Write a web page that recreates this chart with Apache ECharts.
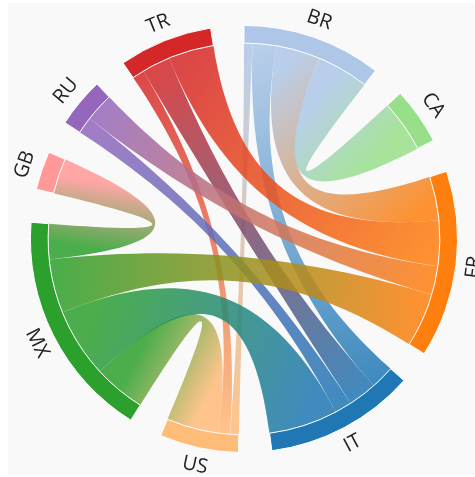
<!DOCTYPE html>
<html>
<head>
<meta charset="utf-8">
<script src="https://cdn.jsdelivr.net/npm/echarts@6/dist/echarts.min.js"></script>
<style>
html, body { margin: 0; padding: 0; overflow: hidden; background: #fff; }
#main { position: absolute; left: 8px; top: 3px; width: 472px; height: 472px; }
</style>
</head>
<body>
<div id="main"></div>
<script>
// countries around the circle, clockwise from the top
var countries = ['BR', 'CA', 'FR', 'IT', 'US', 'MX', 'GB', 'RU', 'TR'];
var countryColors = ['#aec7e8', '#98df8a', '#ff7f0e', '#1f77b4', '#ffbb78', '#2ca02c', '#ff9896', '#9467bd', '#d62728'];

// flows: source, target, value
var linkSource = ['BR', 'BR', 'BR', 'BR', 'TR', 'TR', 'TR', 'RU', 'RU', 'MX', 'MX', 'MX', 'MX'];
var linkTarget = ['US', 'IT', 'FR', 'CA', 'US', 'IT', 'FR', 'IT', 'FR', 'US', 'IT', 'FR', 'GB'];
var linkValue  = [5, 14, 26, 31, 7, 17, 27, 10, 17, 31, 41, 32, 21];

var padAngle = 9;
var innerR = 0.83, outerR = 0.905;

var myChart = echarts.init(document.getElementById('main'));

var nodes = countries.map(function (name, i) {
    return { name: name, itemStyle: { color: countryColors[i] } };
});
var links = linkSource.map(function (s, i) {
    return { source: s, target: linkTarget[i], value: linkValue[i] };
});

// chord labels can't turn, so put tangential labels on with graphic text
var totals = countries.map(function () { return 0; });
var sum = 0;
linkValue.forEach(function (v, i) {
    totals[countries.indexOf(linkSource[i])] += v;
    totals[countries.indexOf(linkTarget[i])] += v;
    sum += 2 * v;
});
var unit = (360 - padAngle * countries.length) / sum;
var cx = myChart.getWidth() / 2, cy = myChart.getHeight() / 2;
var labelR = Math.min(cx, cy) * outerR + 18;
var acc = 0;
var labels = countries.map(function (name, i) {
    var span = totals[i] * unit;
    var mid = acc + span / 2;   // degrees clockwise from top
    acc += span + padAngle;
    var rot;
    if (mid <= 90) rot = -mid;
    else if (mid < 270) rot = 180 - mid;
    else rot = 360 - mid;
    var a = mid * Math.PI / 180;
    return {
        type: 'text',
        x: cx + labelR * Math.sin(a),
        y: cy - labelR * Math.cos(a),
        rotation: rot * Math.PI / 180,
        style: {
            text: name,
            fill: '#222',
            fontSize: 20,
            fontFamily: 'Open Sans',
            align: 'center',
            verticalAlign: 'middle'
        }
    };
});

var option = {
    backgroundColor: '#f9f9f9',
    animation: false,
    graphic: labels,
    series: [{
        type: 'chord',
        center: ['50%', '50%'],
        radius: [innerR * 100 + '%', outerR * 100 + '%'],
        startAngle: 90,
        clockwise: true,
        padAngle: padAngle,
        itemStyle: {
            borderRadius: 0,
            borderColor: '#fff',
            borderWidth: 1
        },
        lineStyle: {
            color: 'gradient',
            opacity: 0.85,
            borderColor: '#fff',
            borderWidth: 1
        },
        label: { show: false },
        data: nodes,
        links: links
    }]
};
myChart.setOption(option);
</script>
</body>
</html>
